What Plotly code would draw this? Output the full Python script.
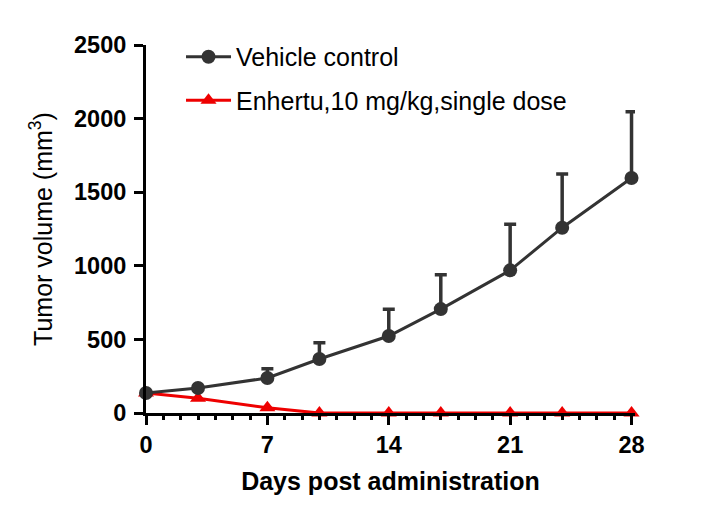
import plotly.graph_objects as go

days = [0, 3, 7, 10, 14, 17, 21, 24, 28]
vehicle_mean = [136, 170, 238, 367, 523, 706, 969, 1259, 1596]
vehicle_err = [0, 0, 62, 110, 181, 234, 313, 365, 451]
enhertu_mean = [136, 100, 35, 0, 0, 0, 0, 0, 0]

x_ticks = [0, 7, 14, 21, 28]
y_ticks = [0, 500, 1000, 1500, 2000, 2500]

FONT = "Liberation Sans, Arial, sans-serif"
DARK = "#333333"
RED = "#ee0000"

fig = go.Figure()
fig.add_trace(go.Scatter(
    x=days, y=enhertu_mean, mode="lines+markers",
    name="Enhertu,10 mg/kg,single dose",
    line=dict(color=RED, width=3),
    marker=dict(symbol="triangle-up", size=14, color=RED),
    cliponaxis=False, legendrank=2, legendgroup="b",
))
fig.add_trace(go.Scatter(
    x=days, y=vehicle_mean, mode="lines+markers",
    name="Vehicle control",
    line=dict(color=DARK, width=3),
    marker=dict(symbol="circle", size=14, color=DARK),
    error_y=dict(type="data", array=vehicle_err, arrayminus=[0]*len(days),
                 symmetric=False, color=DARK, thickness=3.5, width=6),
    cliponaxis=False, legendrank=1, legendgroup="a",
))

fig.update_layout(
    width=709, height=519,
    margin=dict(l=146, r=74, t=45, b=106),
    paper_bgcolor="white", plot_bgcolor="white",
    font=dict(family=FONT, color="black"),
    showlegend=True,
    legend=dict(x=0.0716, y=1.03, xanchor="left", yanchor="top",
                font=dict(size=25, family=FONT, color="black"),
                bgcolor="rgba(0,0,0,0)", traceorder="grouped", tracegroupgap=8,
                itemwidth=45),
    xaxis=dict(range=[0, 28.2], tickvals=x_ticks, ticktext=[str(v) for v in x_ticks],
               showgrid=False, zeroline=False, showline=True, linecolor="black", linewidth=3,
               ticks="outside", ticklen=9, tickwidth=3, tickcolor="black",
               tickfont=dict(size=23.5, family=FONT, color="black", weight="bold"),
               minor=dict(dtick=1, tick0=0, ticks="outside", ticklen=4, tickwidth=2.5, tickcolor="black"),
               title=dict(text="Days post administration", standoff=16,
                          font=dict(size=25, family=FONT, color="black", weight="bold"))),
    yaxis=dict(range=[0, 2500], tickvals=y_ticks, ticktext=[str(v) for v in y_ticks],
               showgrid=False, zeroline=False, showline=True, linecolor="black", linewidth=3,
               ticks="outside", ticklen=9, tickwidth=3, tickcolor="black",
               ticklabelstandoff=3,
               tickfont=dict(size=23.5, family=FONT, color="black", weight="bold"),
               title=dict(text="Tumor volume (mm<sup>3</sup>)", standoff=15,
                          font=dict(size=25, family=FONT, color="black"))),
)

fig.write_html("out.html")
